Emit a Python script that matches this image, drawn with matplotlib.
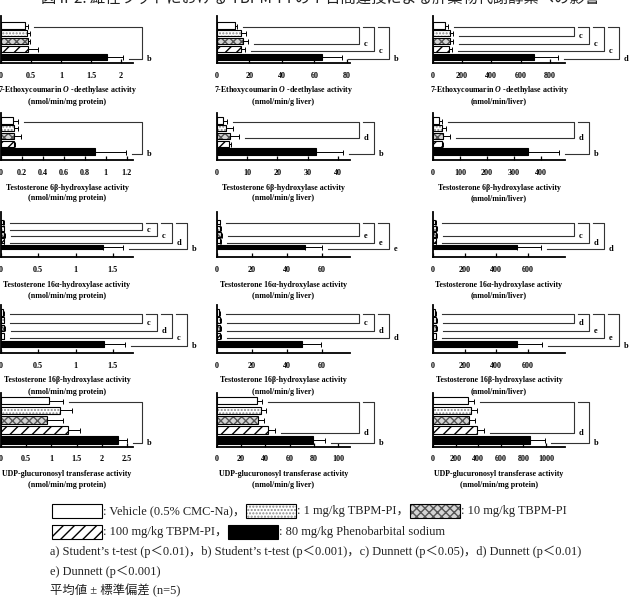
import numpy as np
import matplotlib
matplotlib.use("Agg")
import matplotlib.pyplot as plt
from matplotlib.patches import Rectangle

plt.rcParams['mathtext.fontset'] = 'custom'
plt.rcParams['mathtext.rm'] = 'Liberation Serif:bold'
plt.rcParams['mathtext.it'] = 'Liberation Serif:italic:bold'
plt.rcParams['mathtext.bf'] = 'Liberation Serif:bold'
plt.rcParams['hatch.linewidth'] = 1.0

SERIF = ['Liberation Serif', 'Noto Sans CJK JP']

# ---- data (mean, SD) : order = vehicle, 1, 10, 100 mg/kg TBPM-PI, phenobarbital
groups = ["Vehicle (0.5% CMC-Na)", "1 mg/kg TBPM-PI", "10 mg/kg TBPM-PI",
          "100 mg/kg TBPM-PI", "80 mg/kg Phenobarbital sodium"]

enzymes = ["7-Ethoxycoumarin $O$ -deethylase activity",
           "Testosterone 6β-hydroxylase activity",
           "Testosterone 16α-hydroxylase activity",
           "Testosterone 16β-hydroxylase activity",
           "UDP-glucuronosyl transferase activity"]
units = [["(nmol/min/mg protein)", "(nmol/min/g liver)", "(nmol/min/liver)"]] * 4 + \
        [["(nmol/min/mg protein)", "(nmol/min/g liver)", "(nmol/min/mg protein)"]]

ecod_mean = [[0.40, 0.43, 0.45, 0.45, 1.77], [11, 14.5, 16, 15, 64.5], [80, 115, 115, 110, 690]]
ecod_sd = [[0.05, 0.06, 0.04, 0.17, 0.26], [1.5, 3.5, 3, 2.5, 12.5], [20, 25, 22, 20, 165]]

t6b_mean = [[0.11, 0.12, 0.125, 0.12, 0.90], [2.0, 3.0, 4.3, 4.0, 32.7], [22, 32, 36, 32, 352]]
t6b_sd = [[0.05, 0.04, 0.07, 0.01, 0.29], [1.3, 2.2, 3.0, 0.6, 9.0], [10, 18, 27, 5, 115]]

t16a_mean = [[0.03, 0.035, 0.04, 0.035, 1.37], [1.5, 1.8, 2.0, 1.6, 50], [15, 18, 19, 16, 530]]
t16a_sd = [[0.01, 0.01, 0.012, 0.01, 0.27], [0.4, 0.5, 0.6, 0.4, 10], [4, 5, 6, 4, 150]]

t16b_mean = [[0.03, 0.035, 0.04, 0.035, 1.38], [1.4, 1.7, 1.9, 1.6, 48.5], [15, 18, 19, 16, 530]]
t16b_sd = [[0.01, 0.01, 0.01, 0.01, 0.28], [0.4, 0.5, 0.6, 0.5, 11], [4, 5, 6, 4, 155]]

ugt_mean = [[0.96, 1.17, 0.91, 1.32, 2.33], [33, 36, 34, 42, 79], [310, 336, 320, 390, 860]]
ugt_sd = [[0.27, 0.23, 0.33, 0.25, 0.17], [4, 4.5, 5, 6, 10], [50, 50, 55, 65, 130]]

# significance: (group index, letter)
ecod_sig = [[(4, 'b')], [(2, 'c'), (3, 'c'), (4, 'b')], [(1, 'c'), (2, 'c'), (3, 'c'), (4, 'd')]]
t6b_sig = [[(4, 'b')], [(2, 'd'), (4, 'b')], [(2, 'd'), (4, 'b')]]
t16a_sig = [[(1, 'c'), (2, 'c'), (3, 'd'), (4, 'b')], [(2, 'e'), (3, 'e'), (4, 'e')], [(2, 'c'), (3, 'd'), (4, 'd')]]
t16b_sig = [[(1, 'c'), (2, 'd'), (3, 'c'), (4, 'b')], [(1, 'c'), (2, 'd'), (3, 'd')], [(1, 'd'), (2, 'e'), (3, 'e'), (4, 'b')]]
ugt_sig = [[(4, 'b')], [(3, 'd'), (4, 'b')], [(3, 'd'), (4, 'b')]]

row_mean = [ecod_mean, t6b_mean, t16a_mean, t16b_mean, ugt_mean]
row_sd = [ecod_sd, t6b_sd, t16a_sd, t16b_sd, ugt_sd]
row_sig = [ecod_sig, t6b_sig, t16a_sig, t16b_sig, ugt_sig]

# axis ranges / ticks
row_xmax = [[2.2, 82, 905], [1.26, 44, 489], [1.77, 76, 833], [1.77, 76, 833], [2.62, 110, 1168]]
row_ticks = [[np.arange(0, 2.01, 0.5), np.arange(0, 81, 20), np.arange(0, 801, 200)],
             [np.arange(0, 1.21, 0.2), np.arange(0, 41, 10), np.arange(0, 401, 100)],
             [np.arange(0, 1.51, 0.5), np.arange(0, 61, 20), np.arange(0, 601, 200)],
             [np.arange(0, 1.51, 0.5), np.arange(0, 61, 20), np.arange(0, 601, 200)],
             [np.arange(0, 2.51, 0.5), np.arange(0, 101, 20), np.arange(0, 1001, 200)]]

# bar styles
faces = ['white', 'white', '#d4d4d4', 'white', 'black']
hatches = [None, '.....', 'xxxx', '///', None]
hatch_cols = ['black', '#8a8a8a', '#555555', 'black', 'black']

# ---- layout (pixels)
W, H = 633, 606
col_x = [1, 217, 433]
col_w = [132, 133, 132]
# spine top, vehicle centre, phenobarbital centre, x-axis line
rows_geo = [(16, 25.5, 57, 63), (113, 120.5, 151.5, 160), (212, 222, 247, 257),
            (305, 312.5, 344, 353), (393, 400.5, 440, 446.5)]

fig = plt.figure(figsize=(W / 100, H / 100), dpi=100)

leg = fig.add_axes([0, 0, 1, 1], zorder=-1)
leg.set_xlim(0, W)
leg.set_ylim(H, 0)
leg.axis('off')

LC = '#333333'
AFS = 5.7


def draw_bar(ax, i, y, w, h):
    if hatches[i]:
        ax.barh(y, w, height=h, color=faces[i], hatch=hatches[i],
                edgecolor=hatch_cols[i], linewidth=0)
        ax.barh(y, w, height=h, fill=False, edgecolor='black', linewidth=0.8)
    else:
        ax.barh(y, w, height=h, color=faces[i], edgecolor='black', linewidth=0.8)


def draw_brackets(ax, mean, sd, sig, wpx, xmax):
    tr = ax.get_yaxis_transform()
    px = 1.0 / wpx
    prev = None
    for k, (g, letter) in enumerate(sig):
        xv = 1 + (9 + 15 * k) * px
        if prev is None:
            x0 = (mean[0] + sd[0]) / xmax + 6 * px
        else:
            x0 = prev + 4 * px
        x1 = (mean[g] + sd[g]) / xmax + 6 * px
        y0, y1 = 0.2, g + 0.3
        ax.plot([x0, xv, xv, x1], [y0, y0, y1, y1], transform=tr,
                clip_on=False, color=LC, lw=0.8)
        ax.text(xv + 5 * px, y1, letter, transform=tr, ha='left', va='center',
                family=SERIF, fontweight='bold', fontsize=6)
        prev = xv


for r in range(5):
    top, vc, bc, axis_y = rows_geo[r]
    unit = (bc - vc) / 4.0
    y_bot = (axis_y - vc) / unit
    y_top = -(vc - top) / unit
    for c in range(3):
        ax = fig.add_axes([col_x[c] / W, 1 - axis_y / H, col_w[c] / W, (axis_y - top) / H])
        mean = row_mean[r][c]
        sd = row_sd[r][c]
        xmax = row_xmax[r][c]
        pos = np.arange(5)
        for i in range(5):
            draw_bar(ax, i, pos[i], mean[i], 0.78)
        ax.errorbar(mean, pos, xerr=[np.zeros(5), sd], fmt='none', ecolor='black',
                    elinewidth=0.7, capsize=1.8, capthick=0.7)
        ax.set_xlim(0, xmax)
        ax.set_ylim(y_bot, y_top)
        ax.set_yticks([])
        ticks = row_ticks[r][c]
        ax.set_xticks(ticks)
        ax.set_xticklabels(['%g' % t for t in ticks], family=SERIF,
                           fontweight='bold', fontsize=5.9)
        ax.tick_params(axis='x', direction='in', length=3, width=0.9, pad=6.2)
        for s in ['top', 'right']:
            ax.spines[s].set_visible(False)
        ax.spines['left'].set_linewidth(1.3)
        ax.spines['bottom'].set_linewidth(1.3)
        ax.patch.set_alpha(0)
        ax.annotate(enzymes[r], xy=(0.5, 0), xycoords='axes fraction',
                    xytext=(0, -27.5 * 0.72), textcoords='offset points',
                    ha='center', va='center', family=SERIF, fontweight='bold', fontsize=AFS)
        ax.annotate(units[r][c], xy=(0.5, 0), xycoords='axes fraction',
                    xytext=(0, -38.5 * 0.72), textcoords='offset points',
                    ha='center', va='center', family=SERIF, fontweight='bold', fontsize=AFS)
        draw_brackets(ax, mean, sd, row_sig[r][c], col_w[c], xmax)

# title (cut at the top edge in the source)
leg.text(320, -1.5, "図 II-2. 雄性ラットにおける TBPM-PI の 7 日間連投による肝薬物代謝酵素への影響",
         ha='center', va='center', fontsize=11, family=['Noto Sans CJK JP'], color='#222222')

# ---- legend
renderer = fig.canvas.get_renderer()
LFS = 8.9


def legend_item(x, yc, i, label):
    if hatches[i]:
        leg.add_patch(Rectangle((x, yc - 7), 50, 14, facecolor=faces[i], hatch=hatches[i],
                                edgecolor=hatch_cols[i], linewidth=0))
        leg.add_patch(Rectangle((x, yc - 7), 50, 14, fill=False, edgecolor='black', linewidth=0.8))
    else:
        leg.add_patch(Rectangle((x, yc - 7), 50, 14, facecolor=faces[i],
                                edgecolor='black', linewidth=0.8))
    t = leg.text(x + 51, yc, label, ha='left', va='center', family=SERIF, fontsize=LFS,
                 color='#222222')
    bb = t.get_window_extent(renderer)
    return bb.x1 + 1


x = 52
x = legend_item(x, 511, 0, ": " + groups[0] + "，")
x = legend_item(x, 511, 1, ": " + groups[1] + "，")
x = legend_item(x, 511, 2, ": " + groups[2])
x = 52
x = legend_item(x, 532, 3, ": " + groups[3] + "，")
x = legend_item(x, 532, 4, ": " + groups[4])

notes = ["a) Student’s t-test (p＜0.01)，b) Student’s t-test (p＜0.001)，c) Dunnett (p＜0.05)，d) Dunnett (p＜0.01)",
         "e) Dunnett (p＜0.001)",
         "平均値 ± 標準偏差 (n=5)"]
for yy, s in zip([552, 572, 591], notes):
    leg.text(50, yy, s, ha='left', va='center', family=SERIF, fontsize=LFS, color='#222222')

fig.savefig("out.png", dpi=100)
